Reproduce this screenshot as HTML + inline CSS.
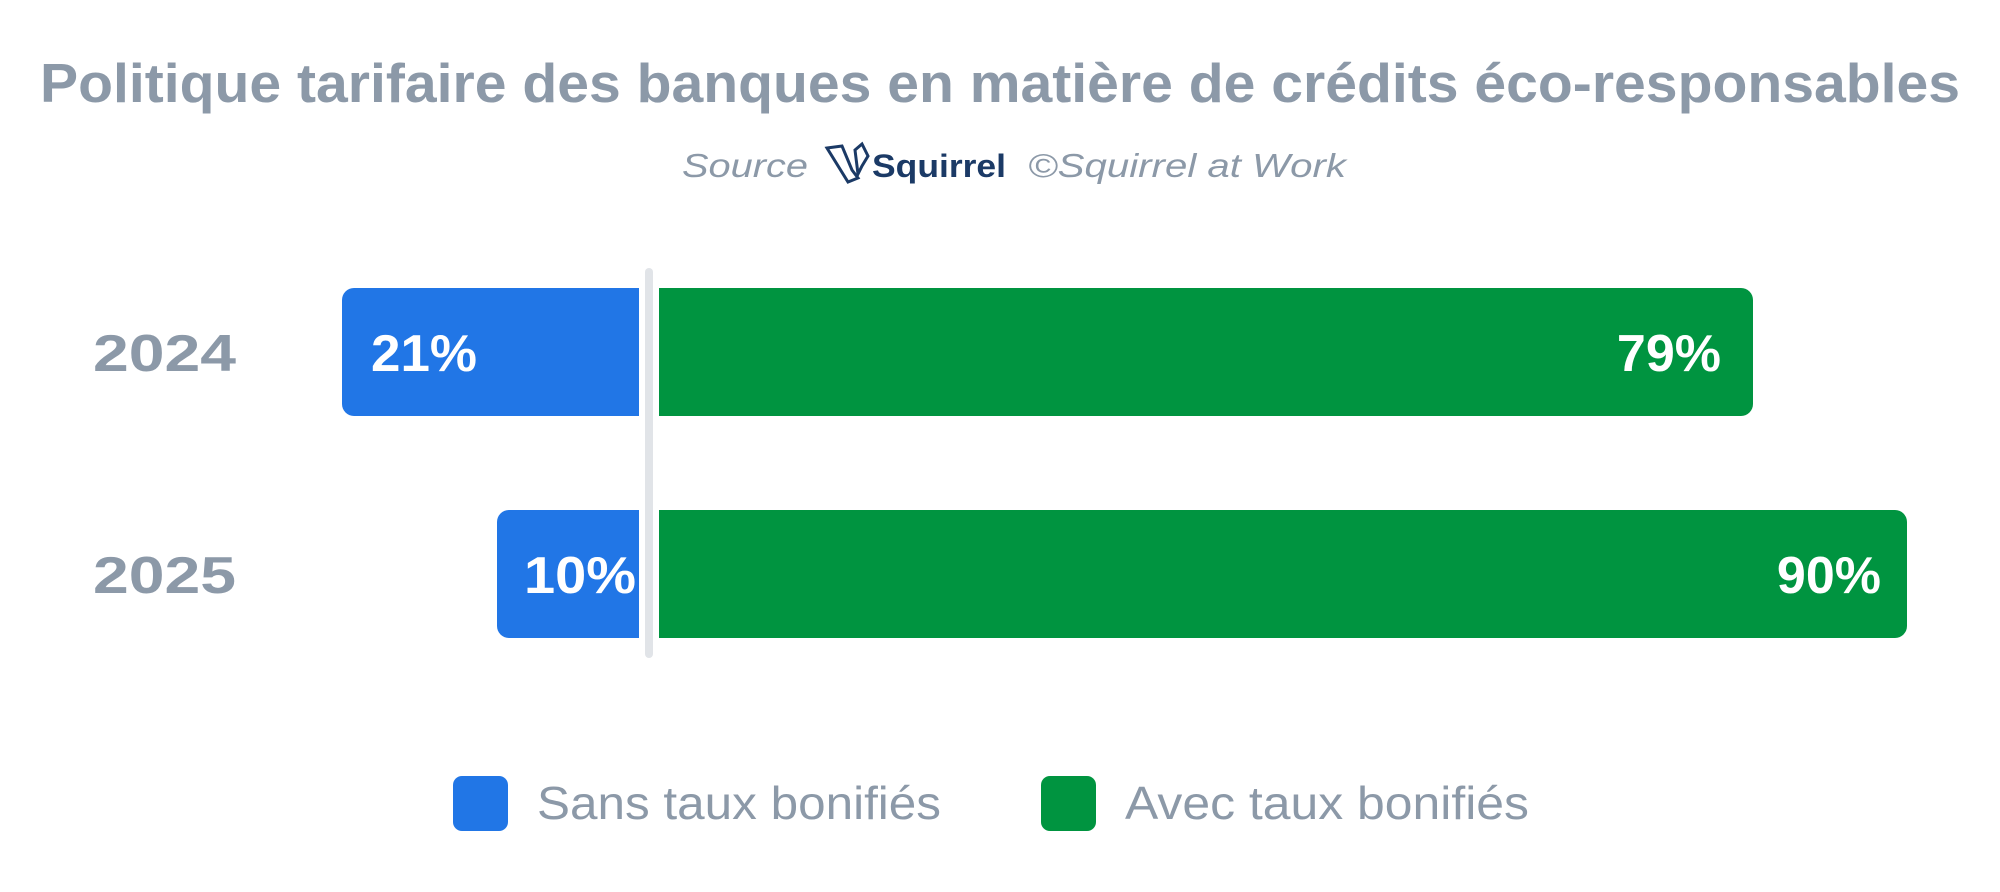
<!DOCTYPE html>
<html><head><meta charset="utf-8"><style>
html,body{margin:0;padding:0;background:#fff;}
svg{display:block;}
text{font-family:"Liberation Sans",Arial,sans-serif;}
</style></head><body>
<svg width="2000" height="892" viewBox="0 0 2000 892" xmlns="http://www.w3.org/2000/svg">
<text x="1000" y="102" text-anchor="middle" font-size="55" font-weight="bold" fill="#8c99a8" textLength="1920" lengthAdjust="spacingAndGlyphs">Politique tarifaire des banques en matière de crédits éco-responsables</text>
<text x="682" y="177" font-size="33" font-style="italic" fill="#8c99a8" textLength="126" lengthAdjust="spacingAndGlyphs">Source</text>
<g fill="none" stroke="#1b3a66" stroke-width="3">
<path d="M827 148 L842 146 L852 170 L858 178 L848 182 Z"/>
<path d="M855 150 L862 144 L868 156 L862 166 L858 174 Z"/>
</g>
<text x="872" y="177" font-size="32" font-weight="bold" fill="#1b3a66" textLength="134" lengthAdjust="spacingAndGlyphs">Squirrel</text>
<text x="1028" y="177" font-size="33" font-style="italic" fill="#8c99a8" textLength="318" lengthAdjust="spacingAndGlyphs">©Squirrel at Work</text>

<rect x="342" y="288" width="310" height="128" rx="12" fill="#2176e6"/>
<rect x="652" y="288" width="4" height="128" fill="#2176e6"/>
<rect x="659" y="288" width="1094" height="128" rx="12" fill="#009440"/>
<rect x="659" y="288" width="20" height="128" fill="#009440"/>
<rect x="497" y="510" width="155" height="128" rx="12" fill="#2176e6"/>
<rect x="659" y="510" width="1248" height="128" rx="12" fill="#009440"/>
<rect x="659" y="510" width="20" height="128" fill="#009440"/>
<rect x="639" y="268" width="20" height="390" fill="#fff"/>
<rect x="645" y="268" width="8" height="390" rx="4" fill="#e1e4e8"/>

<text x="93" y="371" font-size="52" font-weight="bold" fill="#8c99a8" textLength="143" lengthAdjust="spacingAndGlyphs">2024</text>
<text x="93" y="593" font-size="52" font-weight="bold" fill="#8c99a8" textLength="143" lengthAdjust="spacingAndGlyphs">2025</text>
<text x="371" y="371" font-size="52" font-weight="bold" fill="#fff" textLength="106" lengthAdjust="spacingAndGlyphs">21%</text>
<text x="1721" y="371" text-anchor="end" font-size="52" font-weight="bold" fill="#fff">79%</text>
<text x="524" y="593" font-size="52" font-weight="bold" fill="#fff" textLength="112" lengthAdjust="spacingAndGlyphs">10%</text>
<text x="1881" y="593" text-anchor="end" font-size="52" font-weight="bold" fill="#fff">90%</text>

<rect x="453" y="776" width="55" height="55" rx="9" fill="#2176e6"/>
<text x="537" y="819" font-size="46" fill="#8c99a8" textLength="404" lengthAdjust="spacingAndGlyphs">Sans taux bonifiés</text>
<rect x="1041" y="776" width="55" height="55" rx="9" fill="#009440"/>
<text x="1125" y="819" font-size="46" fill="#8c99a8" textLength="404" lengthAdjust="spacingAndGlyphs">Avec taux bonifiés</text>
</svg>
</body></html>
